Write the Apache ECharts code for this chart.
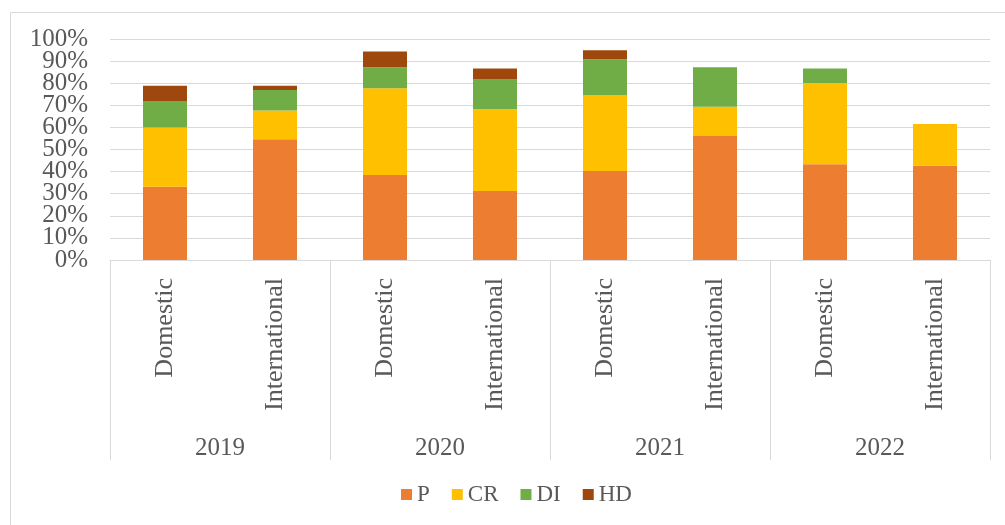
<!DOCTYPE html>
<html>
<head>
<meta charset="utf-8">
<script src="https://cdn.jsdelivr.net/npm/echarts@6/dist/echarts.min.js"></script>
<style>
  html, body { margin: 0; padding: 0; background: #ffffff; }
  #chart { width: 1005px; height: 525px; }
</style>
</head>
<body>
<div id="chart"></div>
<script>
// Inner category level (market) and outer level (year)
const markets = ['Domestic', 'International', 'Domestic', 'International',
                 'Domestic', 'International', 'Domestic', 'International'];
const years = ['2019', '2020', '2021', '2022'];

// Share of each component, percent, one value per market/year bar
const P  = [33.2, 54.6, 38.5, 31.2, 40.3, 56.1, 43.3, 42.7];
const CR = [26.7, 13.0, 39.2, 37.0, 34.4, 13.3, 36.8, 18.8];
const DI = [12.1,  9.3,  9.5, 13.5, 16.1, 17.8,  6.5,  0];
const HD = [ 6.9,  2.0,  7.1,  4.9,  4.1,  0,    0,    0];

// Percent tick values; the labels are tall, so they are split over two
// stacked axes so the axis never drops one as "overlapping"
const tickValuesEven = [0, 20, 40, 60, 80, 100];
const tickValuesOdd  = [10, 30, 50, 70, 90];

const seriesDefs = [
  { name: 'P',  data: P,  color: '#ED7D31' },
  { name: 'CR', data: CR, color: '#FFC000' },
  { name: 'DI', data: DI, color: '#70AD47' },
  { name: 'HD', data: HD, color: '#9E480E' }
];

const serif = '"Liberation Serif", "Times New Roman", serif';
const textGray = '#595959';
const lineGray = '#D9D9D9';

function percentAxis(values, withGrid) {
  return {
    type: 'value',
    position: 'left',
    min: 0,
    max: 100,
    interval: 10,
    axisLine: { show: false },
    axisTick: { show: false },
    splitLine: { show: withGrid, lineStyle: { color: lineGray, width: 1 } },
    axisLabel: {
      customValues: values,
      formatter: '{value}%',
      margin: 22,
      fontFamily: serif,
      fontSize: 25,
      color: textGray
    }
  };
}

const chart = echarts.init(document.getElementById('chart'), null, { renderer: 'canvas' });

chart.setOption({
  backgroundColor: '#ffffff',
  animation: false,
  textStyle: { fontFamily: serif },
  graphic: [{
    type: 'rect',
    shape: { x: 10.5, y: 12.5, width: 1020, height: 540 },
    style: { fill: 'none', stroke: lineGray, lineWidth: 1 },
    silent: true
  }],
  grid: { left: 110, right: 15, top: 39, bottom: 265, containLabel: false },
  legend: {
    bottom: 14,
    left: 396,
    itemWidth: 11,
    itemHeight: 11,
    itemGap: 22,
    icon: 'rect',
    textStyle: { fontFamily: serif, fontSize: 23, color: textGray, padding: [2, 0, 0, 0] },
    data: seriesDefs.map(s => s.name)
  },
  xAxis: [
    {
      type: 'category',
      data: markets,
      position: 'bottom',
      axisLine: { show: true, lineStyle: { color: lineGray, width: 1 } },
      axisTick: { show: false },
      axisLabel: {
        rotate: 90,
        margin: 18,
        fontFamily: serif,
        fontSize: 26,
        color: textGray,
        interval: 0
      }
    },
    {
      type: 'category',
      data: years,
      position: 'bottom',
      axisLine: { show: false },
      axisTick: {
        show: true,
        length: 200,
        alignWithLabel: false,
        lineStyle: { color: lineGray, width: 1 }
      },
      axisLabel: {
        margin: 176,
        fontFamily: serif,
        fontSize: 25,
        color: textGray,
        interval: 0
      }
    }
  ],
  yAxis: [
    percentAxis(tickValuesEven, true),
    percentAxis(tickValuesOdd, false)
  ],
  series: seriesDefs.map(s => ({
    name: s.name,
    type: 'bar',
    stack: 'share',
    xAxisIndex: 0,
    yAxisIndex: 0,
    barWidth: '40%',
    itemStyle: { color: s.color },
    data: s.data
  }))
});
</script>
</body>
</html>
